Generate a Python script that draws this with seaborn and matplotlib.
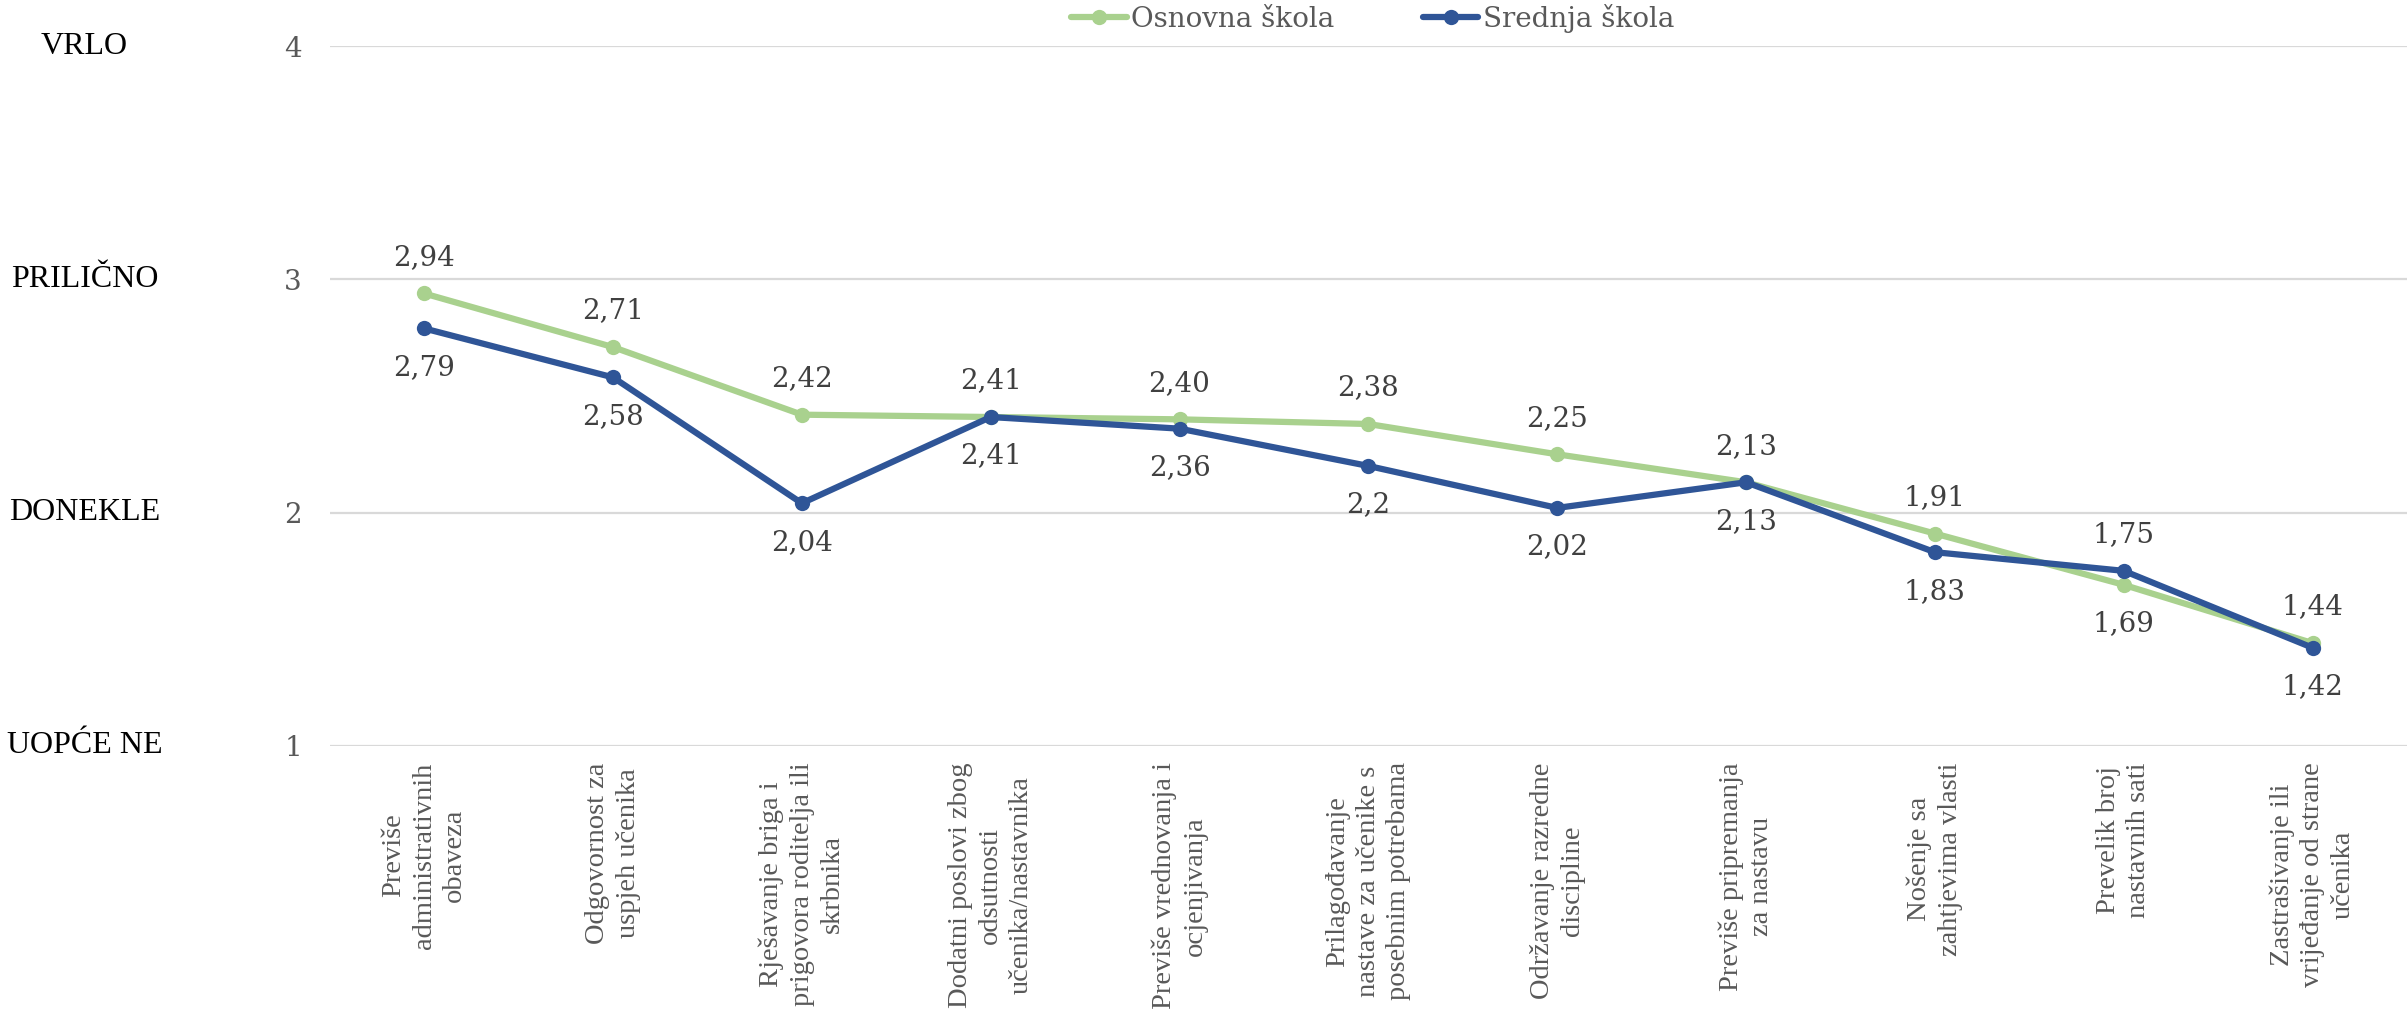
import matplotlib
matplotlib.use("Agg")
import matplotlib.pyplot as plt
import seaborn as sns
import pandas as pd

categories = [
    "Previše\nadministrativnih\nobaveza",
    "Odgovornost za\nuspjeh učenika",
    "Rješavanje briga i\nprigovora roditelja ili\nskrbnika",
    "Dodatni poslovi zbog\nodsutnosti\nučenika/nastavnika",
    "Previše vrednovanja i\nocjenjivanja",
    "Prilagođavanje\nnastave za učenike s\nposebnim potrebama",
    "Održavanje razredne\ndiscipline",
    "Previše pripremanja\nza nastavu",
    "Nošenje sa\nzahtjevima vlasti",
    "Prevelik broj\nnastavnih sati",
    "Zastrašivanje ili\nvrijeđanje od strane\nučenika",
]
osnovna = [2.94, 2.71, 2.42, 2.41, 2.40, 2.38, 2.25, 2.13, 1.91, 1.69, 1.44]
srednja = [2.79, 2.58, 2.04, 2.41, 2.36, 2.20, 2.02, 2.13, 1.83, 1.75, 1.42]
osnovna_lbl = ["2,94", "2,71", "2,42", "2,41", "2,40", "2,38", "2,25", "2,13", "1,91", "1,69", "1,44"]
srednja_lbl = ["2,79", "2,58", "2,04", "2,41", "2,36", "2,2", "2,02", "2,13", "1,83", "1,75", "1,42"]
y_ticks = [1, 2, 3, 4]
y_words = ["UOPĆE NE", "DONEKLE", "PRILIČNO", "VRLO"]

green = "#A9D18E"
blue = "#2F5597"
serif = ["Liberation Serif", "DejaVu Serif"]
dserif = ["DejaVu Serif"]

sns.set_style("white")

df = pd.DataFrame({"kat": categories, "Osnovna škola": osnovna, "Srednja škola": srednja})

fig = plt.figure(figsize=(24.07, 10.09), dpi=100)
ax = fig.add_axes([0.137, 0.261, 0.863, 0.693])

sns.lineplot(data=df, x="kat", y="Osnovna škola", color=green, marker="o", markersize=11,
             markeredgewidth=0, linewidth=4.5, sort=False, label="Osnovna škola", ax=ax, zorder=3)
sns.lineplot(data=df, x="kat", y="Srednja škola", color=blue, marker="o", markersize=11,
             markeredgewidth=0, linewidth=4.5, sort=False, label="Srednja škola", ax=ax, zorder=4)

# data labels: higher value above, lower below (green above on ties)
for i, (a, b) in enumerate(zip(osnovna, srednja)):
    if a >= b:
        pairs = [(a, osnovna_lbl[i], 26), (b, srednja_lbl[i], -28)]
    else:
        pairs = [(a, osnovna_lbl[i], -28), (b, srednja_lbl[i], 26)]
    for v, t, off in pairs:
        ax.annotate(t, (i, v), xytext=(0, off), textcoords="offset points",
                    ha="center", va="center", fontsize=20, color="#404040", family=dserif)

ax.set_xlim(-0.5, len(categories) - 0.5)
ax.set_ylim(1, 4)
ax.set_yticks(y_ticks)
ax.set_yticklabels([str(t) for t in y_ticks], fontsize=20, color="#595959", family=dserif)
ax.tick_params(axis="y", length=0, pad=20)
ax.set_xticks(range(len(categories)))
ax.set_xticklabels(categories, rotation=90, ha="center", va="top", multialignment="center",
                   fontsize=20.5, linespacing=1.28, color="#595959", family=serif)
ax.tick_params(axis="x", length=0, pad=12)
ax.grid(axis="y", color="#D9D9D9", linewidth=1.6)
ax.set_axisbelow(True)
for s in ax.spines.values():
    s.set_visible(False)
ax.set_xlabel("")
ax.set_ylabel("")

for t, w in zip(y_ticks, y_words):
    ax.text(-0.118, t, w, transform=ax.get_yaxis_transform(), ha="center", va="center",
            fontsize=23, color="black", family=serif)

ax.legend(loc="center", bbox_to_anchor=(0.502, 1.04), ncol=2, frameon=False,
          prop={"family": dserif, "size": 20}, labelcolor="#595959",
          handlelength=2.0, handletextpad=0.15, columnspacing=3.2)

fig.savefig("out.png", dpi=100)
